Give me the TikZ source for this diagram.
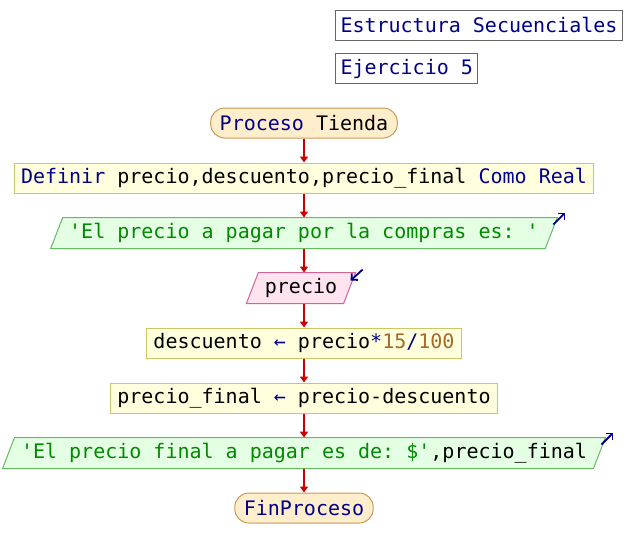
\documentclass[tikz,border=0pt]{standalone}
\usepackage{fontspec}
\usetikzlibrary{positioning,arrows.meta,backgrounds}
\setmonofont{DejaVu Sans Mono}
\definecolor{kwblue}{HTML}{00008B}
\definecolor{strgreen}{HTML}{008A00}
\definecolor{numbrown}{HTML}{A8692C}
\definecolor{flowred}{HTML}{CC0000}
\definecolor{titlegray}{HTML}{666666}
\definecolor{termline}{HTML}{CC9955}
\definecolor{termfill}{HTML}{FFEECC}
\definecolor{procline}{HTML}{C8C864}
\definecolor{procfill}{HTML}{FFFFDD}
\definecolor{outgreen}{HTML}{66BB66}
\definecolor{outfill}{HTML}{E4FFE4}
\definecolor{inpink}{HTML}{CC6699}
\definecolor{infill}{HTML}{FFE4F0}
\newcommand{\kw}[1]{\textcolor{kwblue}{#1}}
\newcommand{\str}[1]{\textcolor{strgreen}{#1}}
\newcommand{\num}[1]{\textcolor{numbrown}{#1}}

\begin{document}
\begin{tikzpicture}[x=1pt,y=1pt,font=\ttfamily\fontsize{20}{24}\selectfont,base/.style={minimum height=30pt,inner ysep=0pt,line width=1pt},titlebox/.style={base,draw=titlegray,fill=white,inner xsep=5pt,anchor=west},term/.style={base,rounded corners=14pt,draw=termline,fill=termfill,inner xsep=9pt},proc/.style={base,draw=procline,fill=procfill,inner xsep=7pt},iobox/.style={base,inner xsep=12pt},flow/.style={-{Triangle[length=6pt,width=8pt]},line width=1.6pt,draw=flowred},iomark/.style={-{Straight Barb[length=4.5pt,width=9pt]},line width=1.8pt,draw=kwblue}]
\useasboundingbox (0,0) rectangle (632,-558);
\node[titlebox] (title) at (335,-25) {\kw{Estructura Secuenciales}};
\node[titlebox] (exercise) at (335,-68.5) {\kw{Ejercicio 5}};
\node[term] (start) at (304,-123) {\kw{Proceso} Tienda};
\node[proc] (define) at (304,-178) {\kw{Definir} precio,descuento,precio\_final \kw{Como Real}};
\node[iobox] (askmsg) at (304,-233) {\str{'El precio a pagar por la compras es: '}};
\node[iobox] (readprice) at (301,-288) {precio};
\node[proc] (discount) at (304,-343) {descuento \kw{←} precio\kw{*}\num{15}\kw{/}\num{100}};
\node[proc] (finalprice) at (304,-398) {precio\_final \kw{←} precio-descuento};
\node[iobox] (showmsg) at (304,-453) {\str{'El precio final a pagar es de: \$'},precio\_final};
\node[term] (stop) at (304,-508) {\kw{FinProceso}};
% slanted boxes for in / out
\begin{scope}[on background layer]
\foreach \n/\c/\f in {askmsg/outgreen/outfill,showmsg/outgreen/outfill,readprice/inpink/infill}{\draw[line width=1pt,draw=\c,fill=\f] ([xshift=-6pt]\n.south west) -- ([xshift=6pt]\n.north west) -- ([xshift=6pt]\n.north east) -- ([xshift=-6pt]\n.south east) -- cycle;}
\end{scope}
\foreach \a/\b in {start/define,define/askmsg,askmsg/readprice,readprice/discount,discount/finalprice,finalprice/showmsg,showmsg/stop}{\draw[flow] (\a.south -| start) -- (\b.north -| start);}
% in / out marks
\draw[iomark] ([shift={(2,-7)}]askmsg.north east) -- ++(12,12);
\draw[iomark] ([shift={(2,-7)}]showmsg.north east) -- ++(12,12);
\draw[iomark] ([shift={(13,3)}]readprice.north east) -- ++(-12,-11);
\end{tikzpicture}
\end{document}
